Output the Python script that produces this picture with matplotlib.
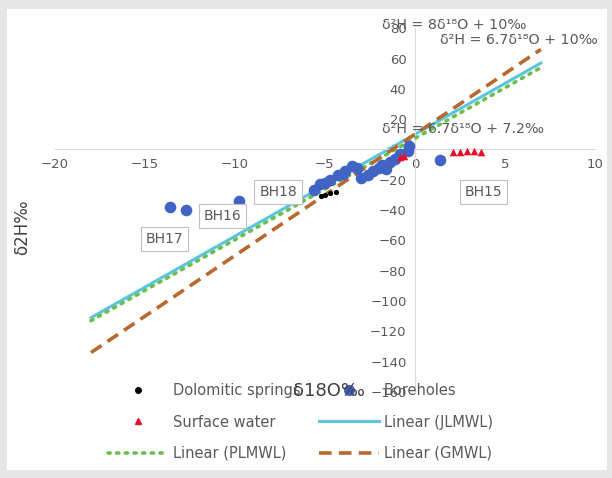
import matplotlib.pyplot as plt
from matplotlib.lines import Line2D
from matplotlib.patches import Rectangle

plt.rcParams['font.family'] = ['DejaVu Sans']

# data
bore_x = [-13.6, -12.7, -9.8, 1.4, -5.6, -5.3, -5.0, -4.7, -4.3, -4.0, -3.9, -3.5, -3.2,
          -3.0, -2.6, -2.3, -2.0, -1.8, -1.6, -1.4, -1.1, -0.8, -0.4, -0.3]
bore_y = [-38, -40, -34, -7, -27, -23, -22, -20, -17, -16, -14, -11, -12,
          -19, -17, -14, -12, -10, -13, -8, -6, -3, -1, 2]
surf_x = [-0.8, -0.6, 2.1, 2.5, 2.9, 3.3, 3.7]
surf_y = [-5, -4, -2, -1.5, -1, -1, -1.5]
dolo_x = [-5.2, -5.0, -4.7, -4.4]
dolo_y = [-31, -30, -29, -28]

line_x = [-18, 7]
jlmwl_y = [-111, 57]
plmwl_y = [-113, 54]
gmwl_y = [-134, 66]

bh_labels = ['BH18', 'BH15', 'BH16', 'BH17']
bh_pos = [(-7.6, -28), (3.8, -28), (-10.7, -44), (-13.9, -59)]

xticks = [-20, -15, -10, -5, 0, 5, 10]
yticks = [-160, -140, -120, -100, -80, -60, -40, -20, 20, 40, 60, 80]

grey = '#595959'
blue = '#4163c4'

fig = plt.figure(figsize=(6.12, 4.78), dpi=100)
fig.patches.append(Rectangle((0, 0), 1, 1, transform=fig.transFigure,
                             facecolor='#e6e6e6', edgecolor='none', zorder=-2))
fig.patches.append(Rectangle((0.012, 0.016), 0.98, 0.965, transform=fig.transFigure,
                             facecolor='white', edgecolor='none', zorder=-1))

ax = fig.add_axes([0.0899, 0.180, 0.882, 0.761])
ax.patch.set_visible(False)
ax.set_xlim(-20, 10)
ax.set_ylim(-160, 80)

for s in ['top', 'right']:
    ax.spines[s].set_visible(False)
ax.spines['left'].set_position(('data', 0))
ax.spines['bottom'].set_position(('data', 0))
ax.spines['left'].set_color('#d9d9d9')
ax.spines['bottom'].set_color('#d9d9d9')
ax.set_xticks(xticks)
ax.set_yticks(yticks)
ax.tick_params(length=0, labelsize=9.5, labelcolor=grey, pad=6)

# trend lines
ax.plot(line_x, jlmwl_y, color='#5bc5dc', lw=2.2, zorder=2)
ax.plot(line_x, plmwl_y, color='#6cbf4f', lw=2.6, ls=(0, (0.6, 1.8)),
        dash_capstyle='round', zorder=3)
ax.plot(line_x, gmwl_y, color='#b8692f', lw=2.6, ls=(0, (3.5, 2)), zorder=3)

ax.scatter(bore_x, bore_y, s=70, color=blue, zorder=4, lw=0)
ax.scatter(surf_x, surf_y, s=30, marker='^', color='#e8102a', zorder=5, lw=0)
ax.scatter(dolo_x, dolo_y, s=14, color='black', zorder=5, lw=0)

for lab, (px, py) in zip(bh_labels, bh_pos):
    ax.text(px, py, lab, ha='center', va='center', fontsize=10, color=grey,
            bbox=dict(boxstyle='square,pad=0.35', fc='white', ec='#bfbfbf', lw=0.8),
            zorder=6)

fig.text(0.624, 0.948, 'δ²H = 8δ¹⁸O + 10‰', fontsize=10.3, color=grey, va='center')
fig.text(0.719, 0.917, 'δ²H = 6.7δ¹⁸O + 10‰', fontsize=10.3, color=grey, va='center')
fig.text(0.624, 0.731, 'δ²H = 6.7δ¹⁸O + 7.2‰', fontsize=10.3, color=grey, va='center')

fig.text(0.036, 0.525, 'δ2H‰', rotation=90, fontsize=12, color='#404040',
         ha='center', va='center')
fig.text(0.537, 0.183, 'δ18O‰', fontsize=13, color='#404040',
         ha='center', va='center', zorder=10)

h_dolo = Line2D([], [], ls='none', marker='o', ms=4, color='black')
h_bore = Line2D([], [], ls='none', marker='o', ms=7, color=blue)
h_surf = Line2D([], [], ls='none', marker='^', ms=5, color='#e8102a')
h_jl = Line2D([], [], color='#5bc5dc', lw=2.2)
h_pl = Line2D([], [], color='#6cbf4f', lw=2.6, ls=(0, (0.6, 1.8)), dash_capstyle='round')
h_gm = Line2D([], [], color='#b8692f', lw=2.6, ls=(0, (3.5, 2)))

leg = fig.legend([h_dolo, h_surf, h_pl, h_bore, h_jl, h_gm],
                 ['Dolomitic springs', 'Surface water', 'Linear (PLMWL)',
                  'Boreholes', 'Linear (JLMWL)', 'Linear (GMWL)'],
                 ncol=2, frameon=False, fontsize=10.5, labelcolor=grey,
                 handlelength=4.1, handletextpad=0.33, columnspacing=1.3,
                 labelspacing=1.12, loc='center left',
                 bbox_to_anchor=(0.155, 0.117))

fig.savefig('out.png', dpi=100)
